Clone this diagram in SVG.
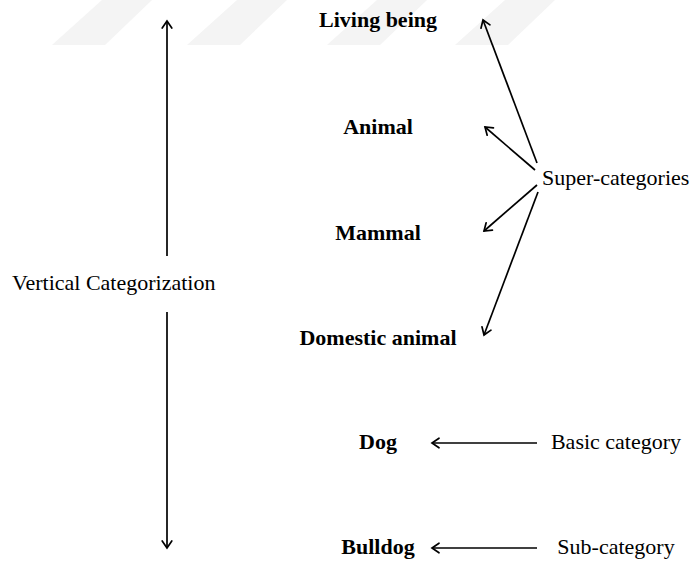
<svg xmlns="http://www.w3.org/2000/svg" width="692" height="562" viewBox="0 0 692 562">
  <style>
    .bold { font-family: "Liberation Serif", "Times New Roman", serif; font-weight: bold; font-size: 22px; fill: #000; text-anchor: middle; }
    .reg { font-family: "Liberation Serif", "Times New Roman", serif; font-size: 22px; fill: #000; }
    .conn { stroke: #000; stroke-width: 1.7; fill: none; marker-end: url(#arrow); }
    .wm { fill: #f4f4f4; }
  </style>
  <defs>
    <marker id="arrow" markerUnits="userSpaceOnUse" markerWidth="14" markerHeight="14" viewBox="-10 -7 14 14" refX="0" refY="0" orient="auto">
      <path d="M -7 -4.8 L 0 0 L -7 4.8" fill="none" stroke="#000" stroke-width="1.7" stroke-linecap="round" stroke-linejoin="miter"/>
    </marker>
  </defs>
  <rect width="692" height="562" fill="#fff"/>
  <g id="watermark">
    <polygon class="wm" points="52,45 105,45 152,0 102,0"/>
    <polygon class="wm" points="187,45 240,45 287,0 237,0"/>
    <polygon class="wm" points="327,45 380,45 427,0 377,0"/>
    <polygon class="wm" points="455,45 508,45 555,0 505,0"/>
  </g>
  <g id="connectors">
    <line class="conn" x1="167" y1="256" x2="167" y2="21"/>
    <line class="conn" x1="167" y1="312" x2="167" y2="548"/>
    <line class="conn" x1="537" y1="163" x2="483" y2="20"/>
    <line class="conn" x1="535" y1="170" x2="485" y2="127"/>
    <line class="conn" x1="537" y1="185" x2="484" y2="231"/>
    <line class="conn" x1="538" y1="192" x2="484" y2="335"/>
    <line class="conn" x1="537" y1="443" x2="432" y2="443"/>
    <line class="conn" x1="537" y1="548" x2="432" y2="548"/>
  </g>
  <g id="living-being"><text class="bold" x="378" y="27">Living being</text></g>
  <g id="animal"><text class="bold" x="378" y="134">Animal</text></g>
  <g id="mammal"><text class="bold" x="378" y="240">Mammal</text></g>
  <g id="domestic-animal"><text class="bold" x="378" y="345">Domestic animal</text></g>
  <g id="dog"><text class="bold" x="378" y="449">Dog</text></g>
  <g id="bulldog"><text class="bold" x="378" y="554">Bulldog</text></g>
  <g id="vertical-categorization"><text class="reg" x="12" y="290">Vertical Categorization</text></g>
  <g id="super-categories"><text class="reg" x="542" y="185">Super-categories</text></g>
  <g id="basic-category"><text class="reg" x="616" y="449" text-anchor="middle">Basic category</text></g>
  <g id="sub-category"><text class="reg" x="616" y="554" text-anchor="middle">Sub-category</text></g>
</svg>
